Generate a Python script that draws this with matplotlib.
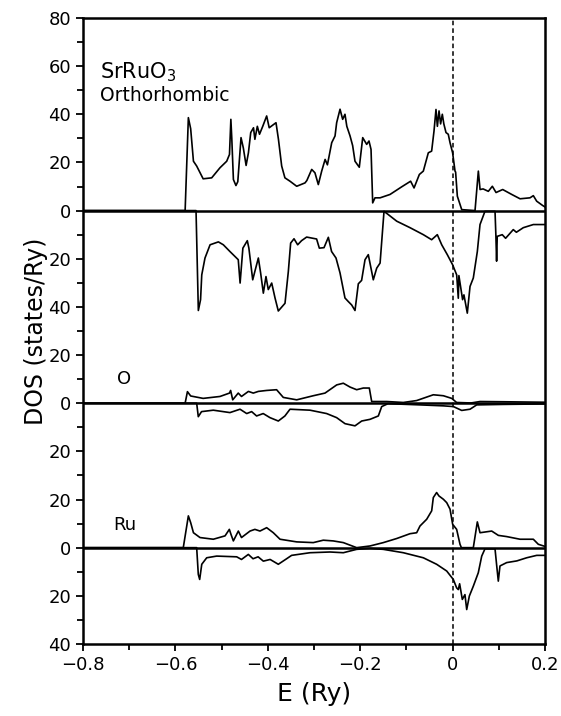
import matplotlib
matplotlib.use("Agg")
import matplotlib.pyplot as plt
import numpy as np
from matplotlib.ticker import FixedLocator, MultipleLocator

# ---------------- data ----------------
# Total DOS, spin up (states/Ry)
tot_up_E = [-0.8, -0.579, -0.572, -0.567, -0.561, -0.554, -0.540, -0.5215, -0.5035, -0.489, -0.483,
            -0.480, -0.478, -0.4745, -0.469, -0.465, -0.458, -0.453, -0.447, -0.442, -0.437, -0.431,
            -0.428, -0.4227, -0.418, -0.411, -0.4025, -0.397, -0.3823, -0.377, -0.370, -0.363, -0.352,
            -0.3375, -0.3195, -0.3155, -0.305, -0.298, -0.2907, -0.2834, -0.276, -0.271, -0.2617,
            -0.2545, -0.251, -0.2437, -0.238, -0.233, -0.229, -0.222, -0.2164, -0.2113, -0.202,
            -0.1946, -0.186, -0.181, -0.1766, -0.173, -0.168, -0.157, -0.1355, -0.110, -0.0909,
            -0.0835, -0.072, -0.0634, -0.0526, -0.0454, -0.0403, -0.036, -0.033, -0.0294, -0.026,
            -0.0223, -0.019, -0.0143, -0.0094, -0.0056, 0.0, 0.0052, 0.0065, 0.0102, 0.0197, 0.0485,
            0.0557, 0.0594, 0.066, 0.0773, 0.086, 0.094, 0.1084, 0.128, 0.146, 0.1675, 0.1747, 0.182,
            0.195, 0.2]
tot_up = [0, 0, 38.6, 34, 20.5, 18.5, 13.2, 13.6, 17.8, 20.5, 23.3,
          37.9, 30, 12.9, 10.4, 12, 30.3, 26, 18.75, 24, 32.4, 34.4,
          29.6, 35, 31.7, 35, 39.3, 34.4, 36.5, 29.6, 18.5, 13.6, 12.2,
          10.1, 11.5, 12.5, 17.1, 15.7, 10.8, 16.4, 21.25, 19, 28.2,
          31, 36.5, 42.1, 37.9, 40, 35, 31, 27, 20.5, 18,
          30.3, 27.5, 28.9, 25.4, 3.2, 5.3, 5.3, 6.7, 9.9, 12.2,
          9.4, 15, 16.4, 24, 24.7, 33, 42, 35, 41.4, 36,
          40, 36, 32.4, 31.7, 28.2, 24, 16.4, 16, 6, 0.4, 0,
          16.4, 8.75, 9, 8, 10.1, 7.5, 8.75, 6.7, 4.9, 5.3, 6.2, 3.9,
          2.1, 1.5]

# Total DOS, spin down (magnitude)
tot_dn_E = [-0.8, -0.5554, -0.5504, -0.5456, -0.543, -0.536, -0.525, -0.507, -0.4963, -0.482, -0.464,
            -0.460, -0.454, -0.4444, -0.441, -0.4327, -0.4277, -0.4205, -0.4155, -0.4097, -0.404,
            -0.399, -0.3916, -0.3844, -0.3773, -0.3628, -0.3556, -0.3506, -0.3433, -0.3354, -0.327,
            -0.316, -0.2944, -0.2885, -0.2784, -0.269, -0.262, -0.2524, -0.2437, -0.233, -0.2257,
            -0.2185, -0.2113, -0.2041, -0.197, -0.1896, -0.1825, -0.1717, -0.1643, -0.157, -0.1485,
            -0.139, -0.121, -0.0922, -0.0634, -0.0454, -0.0331, -0.0236, -0.0115, 0.0, 0.0088,
            0.0123, 0.0136, 0.0216, 0.0245, 0.0318, 0.0377, 0.0448, 0.0535, 0.0593, 0.070, 0.0918,
            0.0936, 0.0952, 0.0966, 0.1074, 0.1147, 0.1313, 0.138, 0.153, 0.1747, 0.1963, 0.2]
tot_dn = [0, 0, 41.5, 37, 26.7, 19.7, 14.2, 13, 14.2, 17, 20.4,
          30.1, 15.6, 12.5, 15.6, 28.75, 25, 19.7, 26, 34.3, 27.4,
          32.8, 30.1, 36.3, 41.7, 38.5, 25.3, 13.5, 11.7, 14.2, 12.5,
          11, 11.8, 15.6, 15.4, 11.1, 17, 19.7, 25.9, 36.3, 37.8,
          39.2, 41.5, 30.4, 29, 20.4, 18.3, 28.75, 23.9, 21.8, 0.3,
          1.7, 4.4, 7.1, 10, 12.1, 10, 14.2, 18.3, 22.5, 26.7,
          36.4, 27, 37, 35, 42.6, 31.5, 28, 17, 5.8, 0.3, 0.3,
          10, 21, 10.7, 10, 11.5, 7.9, 9, 7.1, 5.8, 5.8, 5.8]

# O partial DOS, spin up
o_up_E = [-0.8, -0.579, -0.574, -0.567, -0.540, -0.5035, -0.483, -0.4805, -0.476, -0.464, -0.457,
          -0.442, -0.4315, -0.4205, -0.4025, -0.381, -0.3665, -0.3375, -0.3016, -0.2762, -0.2509,
          -0.2366, -0.222, -0.2077, -0.1933, -0.1803, -0.1752, -0.1428, -0.1067, -0.0778, -0.0418,
          -0.020, -0.0019, 0.0087, 0.04, 0.0593, 0.11, 0.2]
o_up = [0, 0, 4.8, 3, 2, 2.8, 4.2, 5.3, 1.4, 4.2, 2.8,
        4.9, 4.2, 4.9, 5.3, 5.6, 2.4, 1.4, 3.1, 4.2, 7.6,
        8.3, 6.7, 5.6, 6.3, 6.3, 0.7, 0.7, 0.3, 1.1, 3.5,
        3.1, 2, 0.3, 0.1, 0.7, 0.6, 0.4]

# O partial DOS, spin down (magnitude)
o_dn_E = [-0.8, -0.554, -0.5505, -0.5435, -0.518, -0.482, -0.4602, -0.4457, -0.435, -0.4243, -0.410,
          -0.3953, -0.3773, -0.363, -0.352, -0.3087, -0.2727, -0.251, -0.2329, -0.2113, -0.1968,
          -0.1788, -0.1608, -0.1535, -0.14, -0.0706, -0.020, 0.0017, 0.0197, 0.0377, 0.0521, 0.11, 0.2]
o_dn = [0, 0, 5.6, 3.5, 2.9, 3.9, 2.5, 4.3, 3.5, 5.3, 4.3,
        6, 7.4, 5.3, 2.5, 2.9, 4.3, 6, 8.5, 9.4, 7.4,
        6.7, 5.3, 1.4, 0.2, 0.7, 1.1, 1.4, 3.0, 2.5, 0.7, 0.5, 0.3]

# Ru partial DOS, spin up
ru_up_E = [-0.8, -0.583, -0.572, -0.567, -0.561, -0.5468, -0.518, -0.4926, -0.4833, -0.4797, -0.4746,
           -0.4638, -0.457, -0.4385, -0.428, -0.417, -0.4025, -0.3881, -0.3736, -0.3375, -0.3016,
           -0.280, -0.2583, -0.2366, -0.2077, -0.1788, -0.15, -0.121, -0.0922, -0.0778, -0.0706,
           -0.0561, -0.0453, -0.0418, -0.0346, -0.0297, -0.020, -0.0128, -0.0056, 0.0001, 0.0087,
           0.016, 0.019, 0.0448, 0.0535, 0.0593, 0.0846, 0.099, 0.117, 0.1459, 0.1747, 0.1855, 0.197, 0.2]
ru_up = [0, 0, 13.2, 10.4, 6.2, 4.2, 3.5, 4.9, 7.6, 5.5, 2.8,
         6.9, 4.2, 6.9, 7.6, 6.9, 8.3, 6.2, 3.5, 2.4, 2.1,
         3.1, 2.8, 2.1, 0, 0.7, 2.1, 3.8, 5.8, 6.2, 9,
         11.8, 15.3, 20.8, 22.9, 21.5, 20.1, 18.7, 16, 9.7, 7.6,
         1.4, 0, 0, 10.7, 6.2, 6.9, 5.1, 4.6, 3.5, 3.5, 1.4, 0.7, 0.5]

# Ru partial DOS, spin down (magnitude)
ru_dn_E = [-0.8, -0.554, -0.5505, -0.5475, -0.543, -0.5323, -0.5107, -0.4674, -0.457, -0.4422, -0.432,
           -0.421, -0.4097, -0.395, -0.3773, -0.3593, -0.3485, -0.3087, -0.2654, -0.2366, -0.2077,
           -0.1788, -0.15, -0.1067, -0.0634, -0.0346, -0.0128, 0.0015, 0.0087, 0.0123, 0.0152, 0.021,
           0.0267, 0.0305, 0.0362, 0.0448, 0.0556, 0.063, 0.07, 0.0918, 0.0955, 0.0989, 0.1025, 0.117,
           0.139, 0.1603, 0.182, 0.2]
ru_dn = [0, 0, 11.1, 13.2, 6.9, 4.2, 3.5, 3.8, 4.9, 2.8, 4.6,
         3.8, 5.6, 4.9, 6.9, 4.6, 3.2, 2.1, 1.8, 2.1, 0.7,
         0.3, 0.7, 2.1, 4.2, 6.9, 9.7, 13.2, 16.7, 17.4, 15, 21.5,
         19.5, 25.7, 20.1, 16, 10.4, 3.5, 0.5, 0.5, 7.6, 13.9, 7.6, 6.2,
         5.5, 4.2, 3.2, 3.2]

x_ticks = [-0.8, -0.6, -0.4, -0.2, 0.0, 0.2]
x_tick_labels = ["\u22120.8", "\u22120.6", "\u22120.4", "\u22120.2", "0", "0.2"]
y_ticks = [80, 60, 40, 20, 0, -20, -40, -60, -80, -100, -120, -140, -160, -180]
y_tick_labels = ["80", "60", "40", "20", "0", "20", "40", "20", "0", "20", "20", "0", "20", "40"]

# ---------------- figure ----------------
plt.rcParams['font.family'] = ['DejaVu Sans']
fig = plt.figure(figsize=(5.61, 7.16), dpi=100)
ax = fig.add_axes([0.148, 0.1006, 0.8235, 0.8743])

lw = 1.2
base_tot, base_o, base_ru = 0, -80, -140
ax.plot(tot_up_E, base_tot + np.array(tot_up), color='black', lw=lw)
ax.plot(tot_dn_E, base_tot - np.array(tot_dn), color='black', lw=lw)
ax.plot(o_up_E, base_o + np.array(o_up), color='black', lw=lw)
ax.plot(o_dn_E, base_o - np.array(o_dn), color='black', lw=lw)
ax.plot(ru_up_E, base_ru + np.array(ru_up), color='black', lw=lw)
ax.plot(ru_dn_E, base_ru - np.array(ru_dn), color='black', lw=lw)

for b in (base_tot, base_o, base_ru):
    ax.axhline(b, color='black', lw=1.8)
ax.axvline(0.0, color='black', lw=1.1, ls=(0, (3, 2)))

ax.set_xlim(-0.8, 0.2)
ax.set_ylim(-180, 80)

ax.xaxis.set_major_locator(FixedLocator(x_ticks))
ax.set_xticklabels(x_tick_labels)
ax.xaxis.set_minor_locator(MultipleLocator(0.1))
ax.yaxis.set_major_locator(FixedLocator(y_ticks))
ax.set_yticklabels(y_tick_labels)
ax.yaxis.set_minor_locator(MultipleLocator(10))

ax.tick_params(which='both', direction='out', width=1.3, labelsize=13, top=False, right=False)
ax.tick_params(which='major', length=5)
ax.tick_params(which='minor', length=4)
for s in ax.spines.values():
    s.set_linewidth(1.8)

ax.set_xlabel("E (Ry)", fontsize=18, labelpad=6)
ax.set_ylabel("DOS (states/Ry)", fontsize=17, labelpad=0)

ax.text(-0.763, 57.5, "SrRuO$_3$", fontsize=15, va='center', ha='left')
ax.text(-0.763, 48, "Orthorhombic", fontsize=13.5, va='center', ha='left')
ax.text(-0.711, -70, "O", fontsize=13, va='center', ha='center')
ax.text(-0.709, -130.4, "Ru", fontsize=13, va='center', ha='center')

fig.savefig("out.png", dpi=100)
